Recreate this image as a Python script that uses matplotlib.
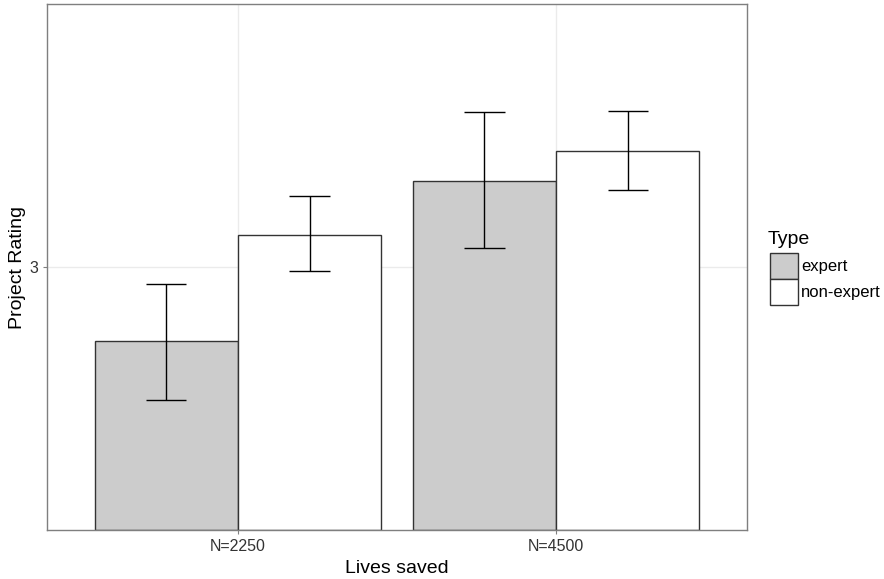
import numpy as np
import matplotlib
matplotlib.use("Agg")
import matplotlib.pyplot as plt
from matplotlib.patches import Rectangle

# data
lives = ["N=2250", "N=4500"]
types = ["expert", "non-expert"]
rating = {"expert": [2.719, 3.327], "non-expert": [3.122, 3.441]}
err_lo = {"expert": [2.494, 3.072], "non-expert": [2.985, 3.293]}
err_hi = {"expert": [2.935, 3.589], "non-expert": [3.270, 3.593]}
fills = {"expert": "#cccccc", "non-expert": "#ffffff"}

plt.rcParams.update({"font.family": ["Liberation Sans", "DejaVu Sans"]})
fig = plt.figure(figsize=(8.84, 5.79), dpi=100)
ax = fig.add_axes([0.0532, 0.0846, 0.7918, 0.9085])

x = np.arange(len(lives))
w = 0.45
for i, t in enumerate(types):
    xs = x + (i - 0.5) * w
    ax.bar(xs, np.array(rating[t]) - 2.0, bottom=2.0, width=w, color=fills[t],
           edgecolor="#333333", linewidth=1.0, zorder=2)
    ax.vlines(xs, err_lo[t], err_hi[t], color="black", lw=1.0, zorder=3)
    ax.hlines(err_lo[t], xs - 0.063, xs + 0.063, color="black", lw=1.0, zorder=3)
    ax.hlines(err_hi[t], xs - 0.063, xs + 0.063, color="black", lw=1.0, zorder=3)

ax.set_xlim(-0.6, 1.6)
ax.set_ylim(2.0, 4.0)
ax.set_xticks(x)
ax.set_xticklabels(lives)
ax.set_yticks([3])
ax.set_yticklabels(["3"])
ax.grid(True, color="#ebebeb", lw=1.0, zorder=0)
ax.set_axisbelow(True)
for s in ax.spines.values():
    s.set_color("#7f7f7f")
    s.set_linewidth(1.0)
ax.tick_params(colors="#7f7f7f", labelcolor="#333333", labelsize=11.5, length=3)
ax.set_xlabel("Lives saved", fontsize=14, labelpad=4)
ax.set_ylabel("Project Rating", fontsize=14, labelpad=2)

# legend drawn by hand in figure pixels
fig.text(768 / 884, 1 - 240 / 579, "Type", fontsize=14, va="center", ha="left")
for k, t in enumerate(types):
    y0 = 253 + 26 * k
    fig.add_artist(Rectangle((770 / 884, 1 - (y0 + 26) / 579), 28 / 884, 26 / 579,
                             transform=fig.transFigure, facecolor=fills[t],
                             edgecolor="#333333", lw=1.0))
    fig.text(801 / 884, 1 - (y0 + 13) / 579, t, fontsize=12, va="center", ha="left")

fig.savefig("out.png", dpi=100)
